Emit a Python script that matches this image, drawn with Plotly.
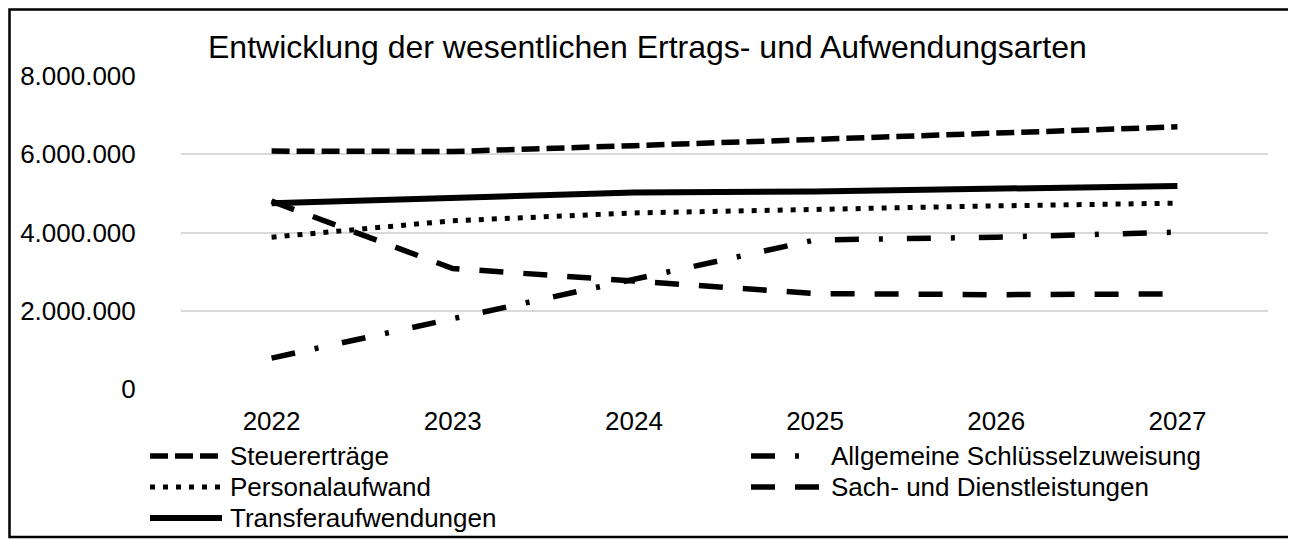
import plotly.graph_objects as go

years = ["2022", "2023", "2024", "2025", "2026", "2027"]
series_names = ["Steuererträge", "Allgemeine Schlüsselzuweisung", "Personalaufwand",
                "Sach- und Dienstleistungen", "Transferaufwendungen"]
steuerertraege = [6080000, 6070000, 6220000, 6380000, 6570000, 6700000]
schluesselzuweisung = [790000, 1800000, 2780000, 3810000, 3880000, 4010000]
personalaufwand = [3880000, 4300000, 4500000, 4600000, 4680000, 4750000]
sach_dienst = [4800000, 3080000, 2760000, 2440000, 2410000, 2430000]
transfer = [4750000, 4880000, 5020000, 5050000, 5120000, 5190000]
series_values = [steuerertraege, schluesselzuweisung, personalaufwand, sach_dienst, transfer]
y_ticks = [0, 2000000, 4000000, 6000000, 8000000]

styles = [
    dict(dash="18px,7px", width=5.5),
    dict(dash="24px,20px,4px,24px", width=5.5),
    dict(dash="5px,8px", width=5),
    dict(dash="24px,20px", width=5.5),
    dict(dash="solid", width=6),
]

# page has an 8px body margin; all pixel targets below are in figure coordinates
OFF = 8
W, H = 1296 - OFF, 540 - OFF
L, R, T, B = 181 - OFF, 1268 - OFF, 76 - OFF, 389 - OFF

def px(x):
    return (x - OFF - L) / (R - L)

def py(y):
    return (B - (y - OFF)) / (B - T)

fig = go.Figure()
for name, vals, st in zip(series_names, series_values, styles):
    fig.add_trace(go.Scatter(x=years, y=vals, mode="lines", name=name,
                             line=dict(color="black", width=st["width"], dash=st["dash"]),
                             showlegend=False))

font_family = "Arial, Liberation Sans, sans-serif"
shapes = []
annotations = []
# custom legend (two columns, row-wise order)
col_sym_x = [150, 751]
col_txt_x = [228, 829]
row_y = [456, 487, 518]
for i, (name, st) in enumerate(zip(series_names, styles)):
    r, c = divmod(i, 2)
    shapes.append(dict(type="line", xref="paper", yref="paper",
                       x0=px(col_sym_x[c]), x1=px(col_sym_x[c] + 72),
                       y0=py(row_y[r]), y1=py(row_y[r]),
                       line=dict(color="black", width=st["width"], dash=st["dash"])))
    annotations.append(dict(text=name, xref="paper", yref="paper",
                            x=px(col_txt_x[c]), y=py(row_y[r]),
                            xanchor="left", yanchor="middle", showarrow=False,
                            font=dict(size=26, color="black", family=font_family)))

# title
annotations.append(dict(text="Entwicklung der wesentlichen Ertrags- und Aufwendungsarten",
                        xref="paper", yref="paper", x=px(206), y=py(47),
                        xanchor="left", yanchor="middle", showarrow=False,
                        font=dict(size=32, color="black", family=font_family)))
# outer border
shapes.append(dict(type="rect", xref="paper", yref="paper",
                   x0=px(9.5), x1=px(1293), y0=py(537), y1=py(9.5),
                   line=dict(color="black", width=2.5), fillcolor="rgba(0,0,0,0)", layer="below"))

fig.update_layout(
    width=W, height=H,
    margin=dict(l=L, r=W - R, t=T, b=H - B),
    paper_bgcolor="white", plot_bgcolor="white",
    separators=",.",
    font=dict(family=font_family, size=26, color="black"),
    shapes=shapes, annotations=annotations,
    showlegend=False,
)
fig.update_xaxes(type="category", range=[-0.5, 5.5], showgrid=False, zeroline=False,
                 showline=False, ticks="outside", ticklen=9, tickcolor="rgba(0,0,0,0)",
                 tickfont=dict(size=26, color="black"))
fig.update_yaxes(range=[0, 8000000], tickvals=y_ticks, tickformat=",d",
                 showgrid=True, gridcolor="#d9d9d9", gridwidth=1.5, zeroline=False,
                 showline=False, ticks="outside", ticklen=39, tickcolor="rgba(0,0,0,0)",
                 tickfont=dict(size=26, color="black"))

fig.write_html("out.html")
